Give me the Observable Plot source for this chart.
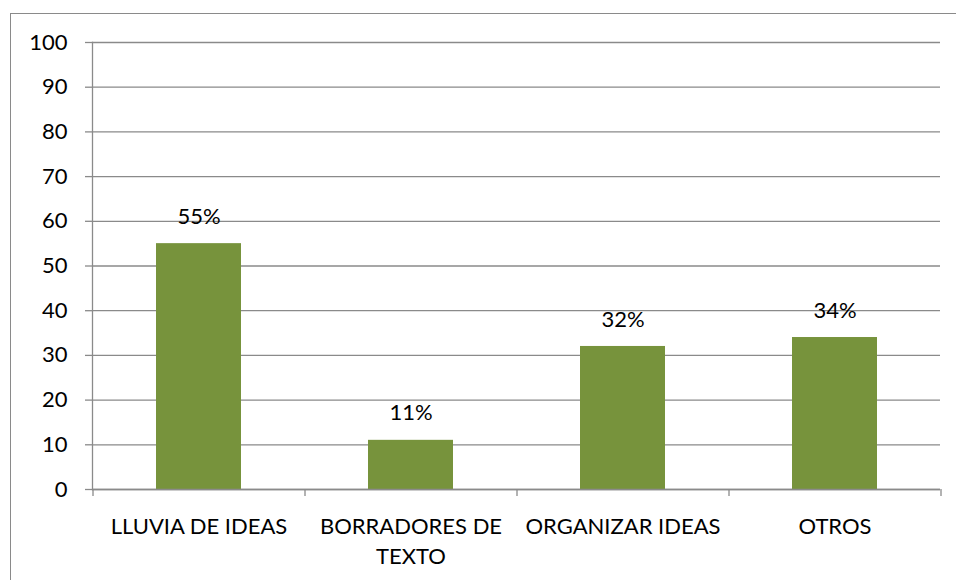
<!DOCTYPE html>
<html>
<head>
<meta charset="utf-8">
<script src="https://cdn.jsdelivr.net/npm/d3@7"></script>
<script src="https://cdn.jsdelivr.net/npm/@observablehq/plot@0.6"></script>
<style>
  html, body { margin: 0; padding: 0; background: #fff; overflow: hidden; }
  #wrap { position: relative; width: 956px; height: 580px; }
  #frame { position: absolute; left: 10px; top: 13px; width: 980px; height: 620px; border: 1.5px solid #8a8a8a; box-sizing: border-box; }
  #chart { position: absolute; left: 0; top: 0; }
</style>
</head>
<body>
<div id="wrap"><div id="frame"></div><div id="chart"></div></div>
<script>
const categories = ["LLUVIA DE IDEAS", "BORRADORES DE TEXTO", "ORGANIZAR IDEAS", "OTROS"];
const tickLabels = ["LLUVIA DE IDEAS", "BORRADORES DE\nTEXTO", "ORGANIZAR IDEAS", "OTROS"];
const values = [55, 11, 32, 34];
const valueLabels = ["55%", "11%", "32%", "34%"];
const yTicks = [0, 10, 20, 30, 40, 50, 60, 70, 80, 90, 100];

const data = categories.map((c, i) => ({cat: c, value: values[i], label: valueLabels[i], tick: tickLabels[i]}));

const W = 956, H = 580, mL = 92, mR = 16, mT = 42, mB = 91;
const step = (W - mL - mR) / categories.length;
const grid = "#8a8a8a";
const font = "Lato, 'Open Sans', sans-serif";
const fs = 22;

const chart = Plot.plot({
  width: W,
  height: H,
  marginLeft: mL,
  marginRight: mR,
  marginTop: mT,
  marginBottom: mB,
  style: {fontFamily: font, fontSize: fs + "px", color: "#000", background: "transparent"},
  x: {type: "band", domain: categories, paddingInner: 0.6, paddingOuter: 0.3},
  y: {type: "linear", domain: [0, 100]},
  marks: [
    Plot.gridY(yTicks, {stroke: grid, strokeOpacity: 1, strokeWidth: 1.3}),
    Plot.axisY(yTicks, {tickSize: 7, tickPadding: 18, stroke: grid, strokeOpacity: 1, strokeWidth: 1.3, fontSize: fs, fill: "#000", label: null}),
    Plot.barY(data, {x: "cat", y: "value", fill: "#77933C"}),
    Plot.frame({anchor: "left", stroke: grid, strokeWidth: 1.3}),
    Plot.ruleY([0], {stroke: grid, strokeWidth: 1.3}),
    // category boundary ticks below the baseline
    Plot.ruleX(data, {x: "cat", dx: -step / 2, y1: 0, y2: 0, insetBottom: -7, stroke: grid, strokeWidth: 1.3}),
    Plot.ruleX(data.slice(-1), {x: "cat", dx: step / 2, y1: 0, y2: 0, insetBottom: -7, stroke: grid, strokeWidth: 1.3}),
    Plot.axisX({tickSize: 0, tickPadding: 23, fontSize: fs, fill: "#000", lineHeight: 1.38, tickFormat: (d) => tickLabels[categories.indexOf(d)], label: null}),
    Plot.text(data, {x: "cat", y: "value", text: "label", dy: -27, fontSize: fs, fill: "#000"})
  ]
});
document.getElementById("chart").appendChild(chart);
</script>
</body>
</html>
